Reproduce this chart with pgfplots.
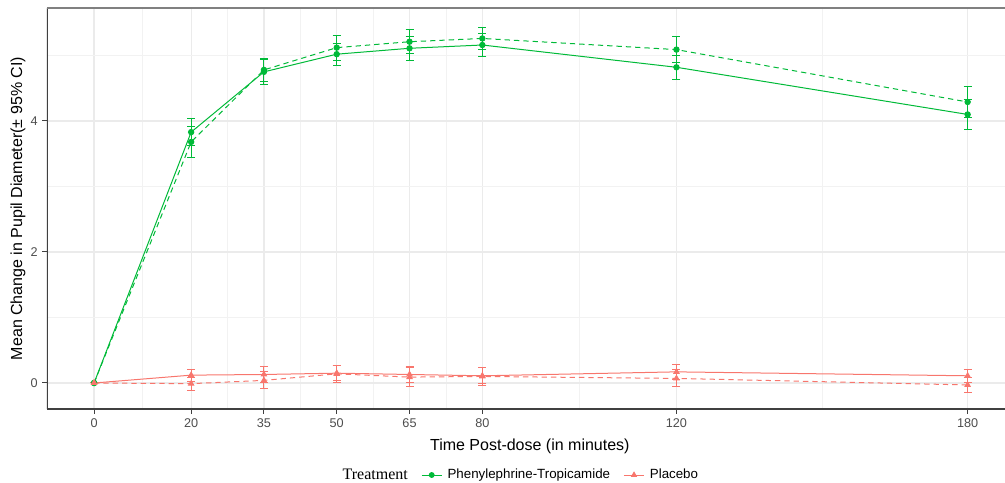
\documentclass[border=0pt]{standalone}
\usepackage{pgfplots}
\pgfplotsset{compat=1.18}
\usepackage{fontspec}
\setmainfont{Liberation Sans}
\newfontfamily\serifft{Liberation Serif}
\definecolor{ggreen}{HTML}{00BA38}
\definecolor{gred}{HTML}{F8766D}
\definecolor{gridmaj}{HTML}{EBEBEB}
\definecolor{gridmin}{HTML}{F2F2F2}
\definecolor{tickcol}{HTML}{4D4D4D}

\pgfplotstableread{
x y e
0 0 0
20 3.83 0.21
35 4.75 0.19
50 5.02 0.17
65 5.11 0.18
80 5.16 0.18
120 4.82 0.18
180 4.10 0.23
}\phA
\pgfplotstableread{
x y e
0 0 0
20 3.68 0.24
35 4.78 0.18
50 5.12 0.19
65 5.21 0.18
80 5.26 0.17
120 5.09 0.20
180 4.29 0.23
}\phB
\pgfplotstableread{
x y e
0 0 0
20 0.12 0.09
35 0.13 0.12
50 0.15 0.11
65 0.13 0.12
80 0.11 0.12
120 0.17 0.12
180 0.11 0.10
}\plA
\pgfplotstableread{
x y e
0 0 0
20 -0.01 0.10
35 0.04 0.13
50 0.14 0.13
65 0.09 0.14
80 0.10 0.14
120 0.07 0.13
180 -0.03 0.11
}\plB

\begin{document}
\begin{tikzpicture}
\begin{axis}[
  at={(35.25pt,54.75pt)}, anchor=south west,
  scale only axis, width=718.5pt, height=300.75pt,
  xmin=-9.7, xmax=187.7, ymin=-0.397, ymax=5.725,
  axis line style={draw=none},
  xtick={0,20,35,50,65,80,120,180},
  minor xtick={10,27.5,42.5,57.5,72.5,100,150},
  ytick={0,2,4}, minor ytick={1,3,5},
  grid=both,
  major grid style={gridmaj, line width=0.9pt},
  minor grid style={gridmin, line width=0.6pt},
  tick align=outside, xtick pos=bottom, ytick pos=left,
  major tick length=3.5pt, minor tick length=0pt,
  tick style={black!75, line width=0.75pt},
  /pgf/number format/assume math mode=true,
  ticklabel style={font=\fontsize{9.5}{11}\selectfont, text=tickcol},
  xlabel={Time Post-dose (in minutes)},
  ylabel={Mean Change in Pupil Diameter(± 95\% CI)},
  label style={font=\fontsize{12}{14}\selectfont},
  xlabel style={at={(axis description cs:0.504,-0.0923)}, anchor=center},
  ylabel style={at={(axis description cs:-0.0303,0.5)}, anchor=center},
  legend columns=-1,
  legend style={at={(axis description cs:0.4927,-0.1646)}, anchor=center, draw=none,
    font=\fontsize{10}{12}\selectfont,
    /tikz/every odd column/.append style={column sep=2pt},
    /tikz/every even column/.append style={column sep=8pt}},
  legend image code/.code={\draw[#1] (0cm,0cm) -- (0.53cm,0cm); \draw[#1] plot coordinates {(0.265cm,0cm)};},
  every axis plot/.append style={line width=0.75pt},
  error bars/y dir=both, error bars/y explicit,
]
\addlegendimage{empty legend}
\addlegendentry{\serifft\fontsize{12}{14}\selectfont Treatment\hspace{4pt}}
\addlegendimage{ggreen, mark=*, mark size=1.8pt}
\addlegendentry{Phenylephrine-Tropicamide}
\addlegendimage{gred, mark=triangle*, mark size=2pt}
\addlegendentry{Placebo}

\addplot[forget plot, ggreen, mark=*, mark size=2pt,
  error bars/error bar style={draw=ggreen, solid, line width=0.75pt},
  error bars/error mark options={draw=ggreen, solid, rotate=90, mark size=3pt, line width=0.75pt}]
  table[x=x, y=y, y error=e] {\phA};
\addplot[forget plot, ggreen, dash pattern=on 4pt off 3pt, mark=*, mark size=2pt, mark options={solid},
  error bars/error bar style={draw=ggreen, solid, line width=0.75pt},
  error bars/error mark options={draw=ggreen, solid, rotate=90, mark size=3pt, line width=0.75pt}]
  table[x=x, y=y, y error=e] {\phB};
\addplot[forget plot, gred, mark=triangle*, mark size=2.2pt,
  error bars/error bar style={draw=gred, solid, line width=0.75pt},
  error bars/error mark options={draw=gred, solid, rotate=90, mark size=3pt, line width=0.75pt}]
  table[x=x, y=y, y error=e] {\plA};
\addplot[forget plot, gred, dash pattern=on 4pt off 3pt, mark=triangle*, mark size=2.2pt, mark options={solid},
  error bars/error bar style={draw=gred, solid, line width=0.75pt},
  error bars/error mark options={draw=gred, solid, rotate=90, mark size=3pt, line width=0.75pt}]
  table[x=x, y=y, y error=e] {\plB};

\draw[black!75, line width=1.2pt] (rel axis cs:0,0) -- (rel axis cs:1,0);
\draw[black!75, line width=1.2pt] (rel axis cs:0,0) -- (rel axis cs:0,1);
\draw[black!50, line width=1.5pt] (rel axis cs:0,1) -- (rel axis cs:1,1);
\end{axis}
\node[anchor=base] at (390.75pt,365.25pt) {\serifft\bfseries\fontsize{20}{24}\selectfont (Completers Population)};
\pgfresetboundingbox
\useasboundingbox (0,0) rectangle (753.75pt,361.5pt);
\end{tikzpicture}
\end{document}
